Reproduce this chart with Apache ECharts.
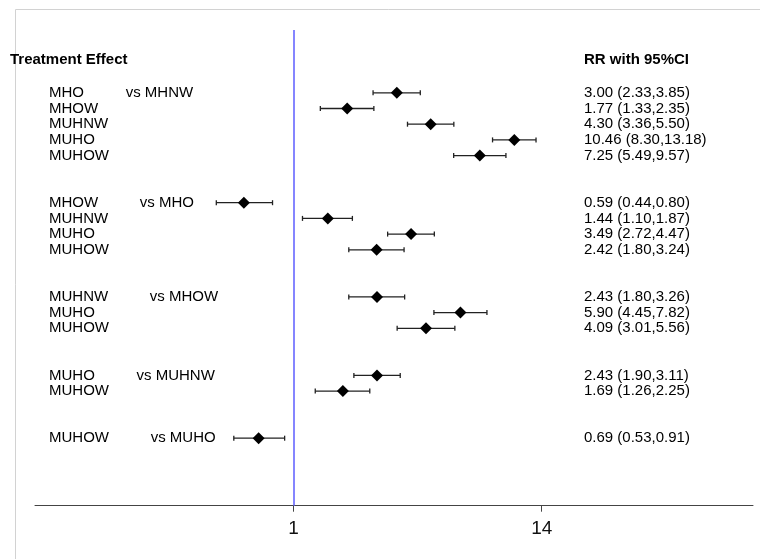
<!DOCTYPE html>
<html>
<head>
<meta charset="utf-8">
<script src="https://cdn.jsdelivr.net/npm/echarts@6/dist/echarts.min.js"></script>
<style>
  html, body { margin: 0; padding: 0; background: #fff; }
  #chart { width: 760px; height: 559px; }
</style>
</head>
<body>
<div id="chart"></div>
<script>
// comparison groups: each group compares several treatments against one reference
const groupRefs = ['MHNW', 'MHO', 'MHOW', 'MUHNW', 'MUHO'];
const groupSizes = [5, 4, 3, 2, 1];
const treatments = ['MHO', 'MHOW', 'MUHNW', 'MUHO', 'MUHOW',
  'MHOW', 'MUHNW', 'MUHO', 'MUHOW',
  'MUHNW', 'MUHO', 'MUHOW',
  'MUHO', 'MUHOW',
  'MUHOW'];
const rr = [3.00, 1.77, 4.30, 10.46, 7.25, 0.59, 1.44, 3.49, 2.42, 2.43, 5.90, 4.09, 2.43, 1.69, 0.69];
const lower = [2.33, 1.33, 3.36, 8.30, 5.49, 0.44, 1.10, 2.72, 1.80, 1.80, 4.45, 3.01, 1.90, 1.26, 0.53];
const upper = [3.85, 2.35, 5.50, 13.18, 9.57, 0.80, 1.87, 4.47, 3.24, 3.26, 7.82, 5.56, 3.11, 2.25, 0.91];
const xTicks = [1, 14];

// row layout: two blank rows between groups
const rows = [];
const firstInGroup = [];
const refOf = [];
let r = 0;
groupSizes.forEach((n, g) => {
  for (let j = 0; j < n; j++) {
    rows.push(r + j);
    firstInGroup.push(j === 0);
    refOf.push(groupRefs[g]);
  }
  r += n + 2;
});

const fmt = v => v.toFixed(2);
const FONT = "'Liberation Sans', Arial, sans-serif";
const HEADER_ROW = -2.1;

const textLabel = (extra) => Object.assign({
  show: true,
  position: 'right',
  distance: 0,
  formatter: p => p.value[2],
  fontFamily: FONT,
  fontSize: 15,
  color: '#000'
}, extra || {});

const textSeries = (data, extra) => ({
  type: 'scatter',
  xAxisIndex: 1,
  yAxisIndex: 1,
  symbolSize: 0,
  itemStyle: { color: 'rgba(0,0,0,0)', opacity: 1 },
  silent: true,
  data: data,
  label: textLabel(extra)
});

const leftTexts = rows.map((row, i) => [49, row,
  firstInGroup[i] ? treatments[i] + ' '.repeat(10) + 'vs ' + refOf[i] : treatments[i]]);
const rightTexts = rows.map((row, i) => [584, row,
  fmt(rr[i]) + ' (' + fmt(lower[i]) + ',' + fmt(upper[i]) + ')']);
const headers = [[10, HEADER_ROW, 'Treatment Effect'], [584, HEADER_ROW, 'RR with 95%CI']];

const chart = echarts.init(document.getElementById('chart'));

const option = {
  animation: false,
  backgroundColor: '#fff',
  graphic: [{
    type: 'rect',
    z: -10,
    shape: { x: 15.5, y: 9.5, width: 800, height: 600 },
    style: { fill: 'none', stroke: '#d2d2d2', lineWidth: 1 }
  }],
  grid: [
    { left: 35, right: 7, top: 30, bottom: 53.3 },
    { left: 0, right: 0, top: 30, bottom: 53.3 }
  ],
  xAxis: [{
    gridIndex: 0,
    type: 'log',
    logBase: 10,
    min: 0.064,
    max: 132.4,
    axisLine: { onZero: false, lineStyle: { color: '#444', width: 1 } },
    axisTick: { customValues: xTicks, length: 6, lineStyle: { color: '#444' } },
    axisLabel: {
      customValues: xTicks,
      formatter: v => String(Math.round(v)),
      fontFamily: FONT,
      fontSize: 19,
      color: '#111',
      margin: 14
    },
    splitLine: { show: false },
    minorTick: { show: false }
  }, {
    gridIndex: 1,
    type: 'value',
    min: 0,
    max: 760,
    show: false
  }],
  yAxis: [{
    gridIndex: 0,
    type: 'value',
    inverse: true,
    min: -4,
    max: 26.3,
    show: false
  }, {
    gridIndex: 1,
    type: 'value',
    inverse: true,
    min: -4,
    max: 26.3,
    show: false
  }],
  series: [
    {
      type: 'custom',
      name: 'ci',
      xAxisIndex: 0,
      yAxisIndex: 0,
      silent: true,
      encode: { x: [0, 1], y: 2 },
      data: rows.map((row, i) => [lower[i], upper[i], row]),
      renderItem: (params, api) => {
        const lo = api.coord([api.value(0), api.value(2)]);
        const hi = api.coord([api.value(1), api.value(2)]);
        const h = 2.5;
        const style = { stroke: '#222', lineWidth: 1.3 };
        return {
          type: 'group',
          children: [
            { type: 'line', shape: { x1: lo[0], y1: lo[1], x2: hi[0], y2: hi[1] }, style },
            { type: 'line', shape: { x1: lo[0], y1: lo[1] - h, x2: lo[0], y2: lo[1] + h }, style },
            { type: 'line', shape: { x1: hi[0], y1: hi[1] - h, x2: hi[0], y2: hi[1] + h }, style }
          ]
        };
      }
    },
    {
      type: 'scatter',
      name: 'rr',
      xAxisIndex: 0,
      yAxisIndex: 0,
      symbol: 'diamond',
      symbolSize: 12,
      itemStyle: { color: '#000', opacity: 1 },
      data: rows.map((row, i) => [rr[i], row]),
      markLine: {
        silent: true,
        symbol: 'none',
        label: { show: false },
        lineStyle: { color: '#5c5cff', width: 1.5, type: 'solid' },
        data: [{ xAxis: 1 }]
      }
    },
    textSeries(leftTexts),
    textSeries(rightTexts),
    textSeries(headers, { fontWeight: 'bold' })
  ]
};

chart.setOption(option);
</script>
</body>
</html>
